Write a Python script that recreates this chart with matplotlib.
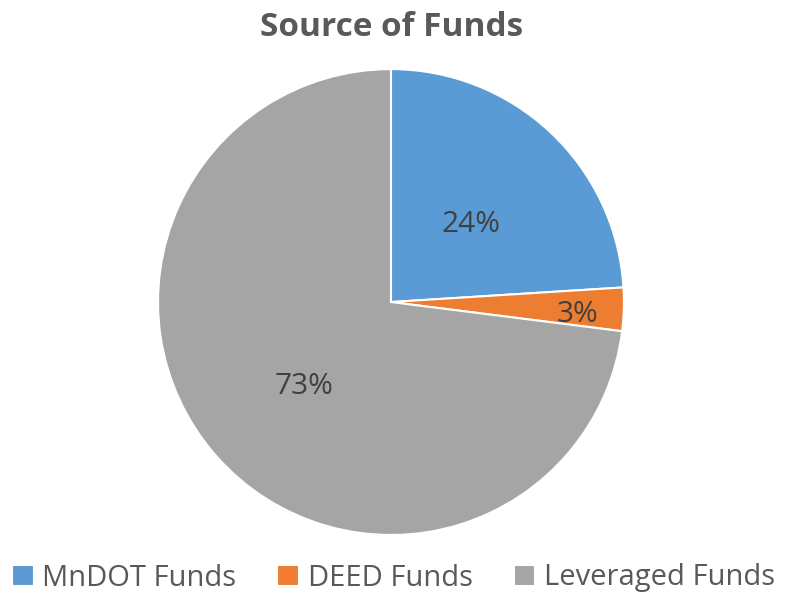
import matplotlib.pyplot as plt
import numpy as np

labels = ['MnDOT Funds', 'DEED Funds', 'Leveraged Funds']
values = [24, 3, 73]
colors = ['#5B9BD5', '#ED7D31', '#A5A5A5']
label_dist = [0.5, 0.8, 0.5]

plt.rcParams['font.family'] = ['Open Sans', 'DejaVu Sans']

fig = plt.figure(figsize=(7.87, 5.92), dpi=100)
ax = fig.add_axes([0.2008, 0.0963, 0.592, 0.787])

wedges, texts = ax.pie(values, colors=colors, startangle=90, counterclock=False,
                       wedgeprops=dict(edgecolor='white', linewidth=1.5))
ax.set_xlim(-1, 1)
ax.set_ylim(-1, 1)
ax.set_aspect('equal')

# percentage labels inside the wedges
for w, v, d in zip(wedges, values, label_dist):
    ang = np.deg2rad((w.theta1 + w.theta2) / 2)
    ax.text(d * np.cos(ang), d * np.sin(ang) - 0.03, f'{v}%', ha='center', va='center',
            fontsize=21.5, color='#404040')

fig.text(0.497, 1 - 28 / 592, 'Source of Funds', ha='center', va='center',
         fontsize=24, fontweight='bold', color='#595959')

fig.legend(wedges, labels, loc='center', bbox_to_anchor=(0.5, 14 / 592), ncol=3,
           frameon=False, fontsize=21, labelcolor='#595959', handlelength=0.75,
           handleheight=0.75, handletextpad=0.3, columnspacing=1.4)

fig.savefig('out.png', dpi=100)
